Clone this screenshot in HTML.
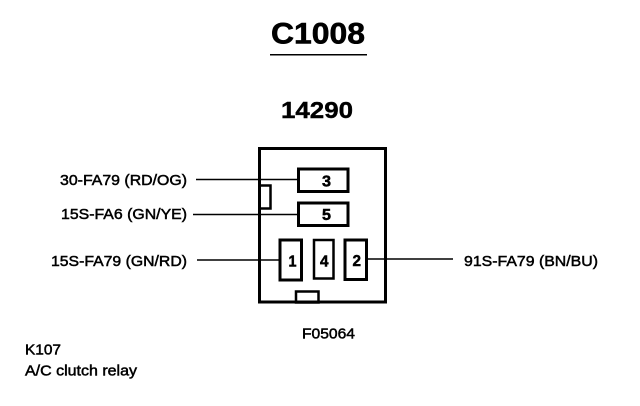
<!DOCTYPE html>
<html>
<head>
<meta charset="utf-8">
<style>
html,body{margin:0;padding:0;background:#fff}
svg{display:block}
text{font-family:"Liberation Sans",sans-serif;fill:#000}
.l{font-size:15px;stroke:#000;stroke-width:.5px}
.n{font-size:15.5px;font-weight:bold;stroke:#000;stroke-width:.5px}
</style>
</head>
<body>
<svg width="640" height="406" viewBox="0 0 640 406" xmlns="http://www.w3.org/2000/svg">
<text x="271" y="43.5" font-size="30" font-weight="bold" stroke="#000" stroke-width=".6" textLength="94" lengthAdjust="spacingAndGlyphs">C1008</text>
<rect x="270" y="54" width="97" height="1.5" fill="#000"/>
<text x="281" y="118" font-size="23.5" font-weight="bold" stroke="#000" stroke-width=".4" textLength="72" lengthAdjust="spacingAndGlyphs">14290</text>

<g fill="none" stroke="#000">
<rect x="259.5" y="148.5" width="126" height="153.5" stroke-width="3"/>
<rect x="259.5" y="185.5" width="11" height="23" stroke-width="2.5"/>
<rect x="296" y="291.5" width="22.5" height="11" stroke-width="2.5"/>
<rect x="298.5" y="169" width="49.5" height="22.5" stroke-width="3"/>
<rect x="298.5" y="203" width="49.5" height="22.5" stroke-width="3"/>
<rect x="280" y="240" width="21.5" height="40" stroke-width="3"/>
<rect x="314" y="240" width="19.5" height="38.5" stroke-width="2.5"/>
<rect x="345" y="240" width="21.5" height="39.5" stroke-width="3"/>
</g>

<g stroke="#000" stroke-width="1.5">
<line x1="196" y1="179.5" x2="298" y2="179.5"/>
<line x1="193" y1="214.5" x2="298" y2="214.5"/>
<line x1="197" y1="260" x2="279" y2="260"/>
<line x1="367" y1="259" x2="453" y2="259"/>
</g>

<text class="n" x="322" y="186.5" textLength="9" lengthAdjust="spacingAndGlyphs">3</text>
<text class="n" x="322" y="220" textLength="9" lengthAdjust="spacingAndGlyphs">5</text>
<text class="n" x="288.5" y="266.5" textLength="8" lengthAdjust="spacingAndGlyphs">1</text>
<text class="n" x="320" y="266.5" textLength="8.5" lengthAdjust="spacingAndGlyphs">4</text>
<text class="n" x="352.5" y="266" textLength="8.5" lengthAdjust="spacingAndGlyphs">2</text>

<text class="l" x="60" y="185" textLength="127" lengthAdjust="spacingAndGlyphs">30-FA79 (RD/OG)</text>
<text class="l" x="61" y="219" textLength="126" lengthAdjust="spacingAndGlyphs">15S-FA6 (GN/YE)</text>
<text class="l" x="51" y="266" textLength="136" lengthAdjust="spacingAndGlyphs">15S-FA79 (GN/RD)</text>
<text class="l" x="464" y="266" textLength="134" lengthAdjust="spacingAndGlyphs">91S-FA79 (BN/BU)</text>
<text class="l" x="302" y="338.5" textLength="53" lengthAdjust="spacingAndGlyphs">F05064</text>
<text class="l" x="25" y="354.5" textLength="36" lengthAdjust="spacingAndGlyphs">K107</text>
<text class="l" x="25" y="375.5" textLength="112" lengthAdjust="spacingAndGlyphs">A/C clutch relay</text>
</svg>
</body>
</html>
